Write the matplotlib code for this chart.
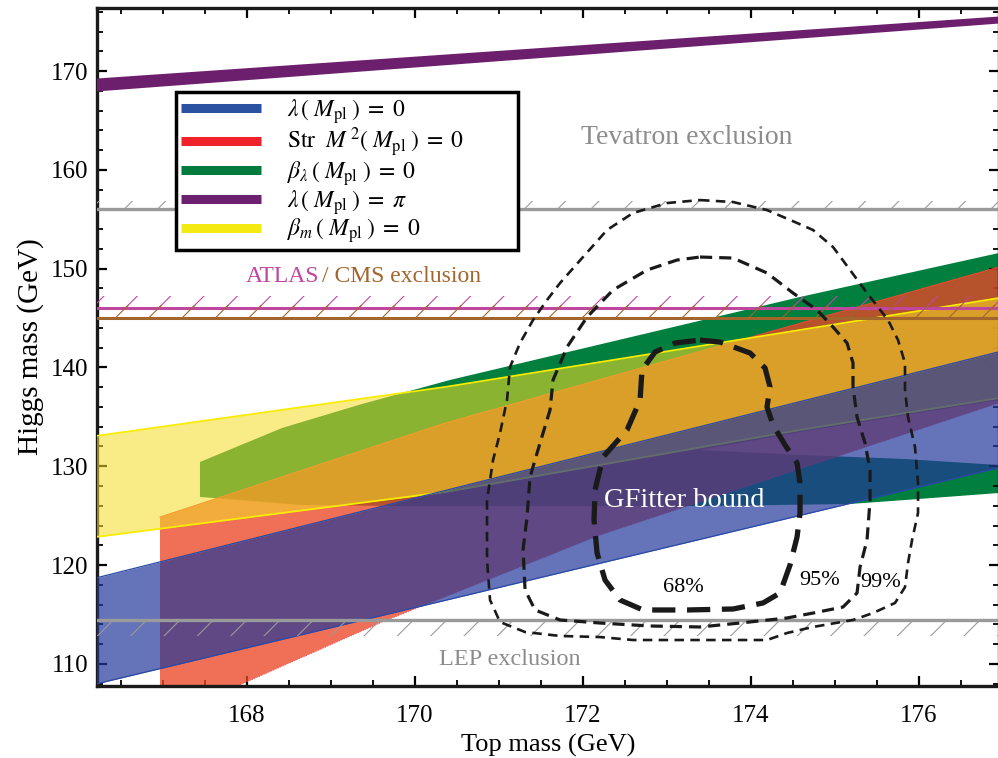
import matplotlib.pyplot as plt
from matplotlib.lines import Line2D
from matplotlib.ticker import MultipleLocator

plt.rcParams['font.family'] = ['Liberation Serif', 'DejaVu Serif']
plt.rcParams['mathtext.fontset'] = 'stix'
plt.rcParams['hatch.linewidth'] = 0.8

# plot ranges (GeV)
mt_lim = (166.214, 176.952)
mh_lim = (107.756, 176.38)

# lambda(Mpl) = 0 band
blue_mt = [166.2, 176.95]
blue_lo = [107.96, 129.84]
blue_hi = [118.69, 141.58]

# Str M^2(Mpl) = 0 band
red_mt_hi = [166.964, 170.357, 174.381, 176.95]
red_hi = [124.86, 134.37, 143.99, 150.16]
red_mt_lo = [166.964, 167.857, 169.607, 172.202, 176.95]
red_lo = [104.3, 107.65, 114.23, 123.04, 136.40]

# beta_m(Mpl) = 0 band
yel_mt = [166.2, 170.357, 174.583, 176.95]
yel_lo = [122.84, 127.39, 133.67, 136.9]
yel_hi = [133.06, 138.02, 143.79, 147.02]

# beta_lambda(Mpl) = 0 region outline
grn_mt = [167.44, 168.417, 169.369, 170.417, 174.583, 176.95, 176.95, 174.583,
          173.393, 174.583, 175.833, 176.95, 176.95, 175.833, 175.179, 173.393,
          171.012, 169.821, 168.631, 167.917, 167.44]
grn_mh = [130.43, 133.87, 136.30, 138.73, 147.13, 151.58, 136.70, 133.46,
          131.64, 131.14, 130.73, 130.12, 127.29, 126.58, 126.18, 125.97,
          125.97, 125.97, 126.08, 126.58, 126.89]

# lambda(Mpl) = pi band
pi_mt = [166.2, 176.95]
pi_lo = [167.98, 174.86]
pi_hi = [169.29, 175.57]

# experimental exclusions
tevatron = 156.0
lep = 114.4
atlas = 146.0
cms = 145.0

# GFitter confidence regions
cl68_mt = [173.393, 173.631, 173.988, 174.167, 174.226, 174.19, 174.262, 174.405,
           174.548, 174.583, 174.583, 174.548, 174.464, 174.345, 174.143, 173.786,
           173.238, 172.714, 172.44, 172.262, 172.167, 172.131, 172.143, 172.238,
           172.524, 172.679, 172.702, 172.857, 173.095, 173.393]
cl68_mh = [142.77, 142.57, 141.46, 139.94, 138.02, 135.99, 134.17, 132.15,
           130.33, 128.30, 125.27, 122.84, 120.00, 117.17, 116.16, 115.55,
           115.45, 115.45, 116.46, 118.48, 121.22, 124.56, 127.59, 130.93,
           133.67, 136.70, 139.74, 141.56, 142.47, 142.77]

cl95_mt = [173.393, 173.786, 174.19, 174.5, 174.786, 174.976, 175.143, 175.214,
           175.214, 175.262, 175.357, 175.417, 175.417, 175.381, 175.298, 175.262,
           175.095, 174.738, 174.429, 173.869, 173.393, 172.798, 172.202, 171.726,
           171.429, 171.31, 171.286, 171.333, 171.369, 171.488, 171.607, 171.643,
           171.81, 172.048, 172.357, 172.762, 173.119, 173.393]
cl95_mh = [151.175, 151.07, 149.56, 147.53, 145.81, 144.09, 142.47, 140.45,
           138.02, 134.98, 132.35, 129.62, 126.58, 122.53, 119.80, 117.17,
           115.75, 115.14, 114.64, 114.13, 113.73, 113.83, 114.13, 114.44,
           115.45, 117.47, 121.52, 124.86, 128.91, 132.35, 135.69, 138.73,
           142.07, 145.10, 147.835, 149.86, 150.87, 151.175]

cl99_mt = [173.393, 173.786, 174.19, 174.548, 174.738, 174.976, 175.179, 175.381,
           175.631, 175.75, 175.833, 175.833, 175.869, 175.952, 175.988, 175.988,
           175.917, 175.869, 175.833, 175.714, 175.452, 175.214, 174.738, 174.429,
           174.19, 173.393, 172.595, 172.202, 171.726, 171.31, 171.012, 170.893,
           170.857, 170.857, 170.929, 171.012, 171.095, 171.131, 171.25, 171.405,
           171.571, 171.726, 172.0, 172.286, 172.595, 173.0, 173.393]
cl99_mh = [156.94, 156.74, 155.93, 154.62, 153.91, 152.19, 149.86, 147.53,
           144.80, 142.77, 140.45, 137.71, 134.98, 131.94, 128.30, 125.27,
           122.53, 120.20, 117.77, 116.16, 115.14, 114.44, 113.73, 113.12,
           112.41, 112.41, 112.41, 112.71, 112.82, 113.22, 114.23, 116.46,
           120.51, 126.58, 130.63, 133.36, 136.70, 140.04, 142.47, 144.80,
           146.82, 148.54, 151.175, 153.91, 155.63, 156.64, 156.94]

legend_labels = [r'$\lambda\,(\;M_{\rm pl}\;)\;=\;0$',
                 r'${\rm Str}\ \ M^{\,2}(\;M_{\rm pl}\;)\;=\;0$',
                 r'$\beta_\lambda\,(\;M_{\rm pl}\;)\;=\;0$',
                 r'$\lambda\,(\;M_{\rm pl}\;)\;=\;\pi$',
                 r'$\beta_m\,(\;M_{\rm pl}\;)\;=\;0$']
legend_colors = ['#2a52a0', '#ee2228', '#007a3d', '#6e2070', '#f2ea10']

fig = plt.figure(figsize=(9.98, 7.58), dpi=100)
ax = fig.add_axes([97 / 998, 0.09499, 902 / 998, 0.89446])

# bands, drawn bottom to top
ax.fill(grn_mt, grn_mh, color='#007f3e', lw=0, zorder=1)
ax.fill(red_mt_hi + red_mt_lo[::-1], red_hi + red_lo[::-1],
        color='#eb4628', alpha=0.78, lw=0, zorder=2)
ax.plot(red_mt_hi, red_hi, color='#f04a30', lw=0.7, zorder=2.1)
ax.plot(red_mt_lo, red_lo, color='#f04a50', lw=0.7, ls=':', zorder=2.1)
ax.fill_between(yel_mt, yel_lo, yel_hi, color='#f5dd27', alpha=0.56, lw=0, zorder=3)
ax.plot(yel_mt, yel_hi, color='#f8ec00', lw=1.3, zorder=3.1)
ax.plot(yel_mt, yel_lo, color='#f8ec00', lw=1.3, zorder=3.1)
ax.fill_between(blue_mt, blue_lo, blue_hi, color='#24389a', alpha=0.7, lw=0, zorder=4)
ax.plot(blue_mt, blue_hi, color='#2a4aa8', lw=0.9, zorder=4.1)
ax.plot(blue_mt, blue_lo, color='#2a4aa8', lw=0.9, zorder=4.1)
ax.fill_between(pi_mt, pi_lo, pi_hi, color='#6c1f6c', lw=0, zorder=4)

# exclusion lines with hatched sides
gray = '#9a9a9a'
magenta = '#c0479e'
brown = '#a2652c'
ax.axhline(tevatron, color=gray, lw=2.4, zorder=6)
ax.fill_between(mt_lim, tevatron, tevatron + 0.8, facecolor='none',
                edgecolor=gray, hatch='/', lw=0, zorder=6)
ax.axhline(lep, color=gray, lw=2.4, zorder=6)
ax.fill_between(mt_lim, lep - 1.6, lep, facecolor='none',
                edgecolor=gray, hatch='/', lw=0, zorder=6)
ax.axhline(atlas, color=magenta, lw=2.2, zorder=6)
ax.fill_between(mt_lim, atlas, atlas + 1.2, facecolor='none',
                edgecolor=magenta, hatch='/', lw=0, zorder=6)
ax.axhline(cms, color=brown, lw=2.2, zorder=6)
ax.fill_between(mt_lim, cms, cms + 1.3, facecolor='none',
                edgecolor=brown, hatch='/', lw=0, zorder=6)

# GFitter contours
ax.plot(cl99_mt, cl99_mh, color='#1a1a1a', lw=1.9, ls=(0, (3.6, 2.4)), zorder=7)
ax.plot(cl95_mt, cl95_mh, color='#1a1a1a', lw=2.3, ls=(0, (3.8, 2.2)), zorder=7)
ax.plot(cl68_mt, cl68_mh, color='#1a1a1a', lw=3.8, ls=(0, (4.4, 2.2)), zorder=7)

# labels on the plot
ax.text(173.24, 163.3, 'Tevatron exclusion', color='#8c8c8c', fontsize=20,
        ha='center', va='center', zorder=8)
ax.text(168.857, 149.25, 'ATLAS', color=magenta, fontsize=17,
        ha='right', va='center', zorder=8)
ax.text(168.893, 149.25, '/ CMS exclusion', color=brown, fontsize=17,
        ha='left', va='center', zorder=8)
ax.text(171.13, 110.4, 'LEP exclusion', color='#8c8c8c', fontsize=17.5,
        ha='center', va='center', zorder=8)
ax.text(173.21, 126.5, 'GFitter bound', color='white', fontsize=20.5,
        ha='center', va='center', zorder=8)
ax.text(173.19, 117.77, '68%', fontsize=16, ha='center', va='center', zorder=8)
ax.text(174.82, 118.48, '95%', fontsize=16, ha='center', va='center', zorder=8)
ax.text(175.54, 118.28, '99%', fontsize=16, ha='center', va='center', zorder=8)

ax.set_xlim(*mt_lim)
ax.set_ylim(*mh_lim)
ax.xaxis.set_major_locator(MultipleLocator(2))
ax.xaxis.set_minor_locator(MultipleLocator(0.5))
ax.yaxis.set_major_locator(MultipleLocator(10))
ax.yaxis.set_minor_locator(MultipleLocator(2))
ax.tick_params(which='both', direction='in', top=True, right=True, labelsize=18)
ax.tick_params(which='major', length=7, width=1.6)
ax.tick_params(which='minor', length=4, width=1.3)
ax.tick_params(axis='x', which='major', pad=14)
ax.tick_params(axis='y', which='major', pad=6)
for sp in ax.spines.values():
    sp.set_linewidth(2.4)
    sp.set_color('#1a1a1a')

ax.set_xlabel('Top mass (GeV)', fontsize=19, labelpad=5)
ax.set_ylabel('Higgs mass (GeV)', fontsize=21, labelpad=5)

handles = [Line2D([], [], color=c, lw=6.5, solid_capstyle='butt') for c in legend_colors]
leg = ax.legend(handles, legend_labels, loc='upper left', mode='expand',
                bbox_to_anchor=(0.0878, 0.5, 0.379, 0.376), borderaxespad=0,
                fontsize=17, handlelength=3.4, handletextpad=1.1,
                labelspacing=0.0, borderpad=0.2, frameon=True, fancybox=False,
                edgecolor='black', framealpha=1)
leg.get_frame().set_linewidth(2.5)
leg.set_zorder(10)

fig.savefig('out.png', dpi=100)
